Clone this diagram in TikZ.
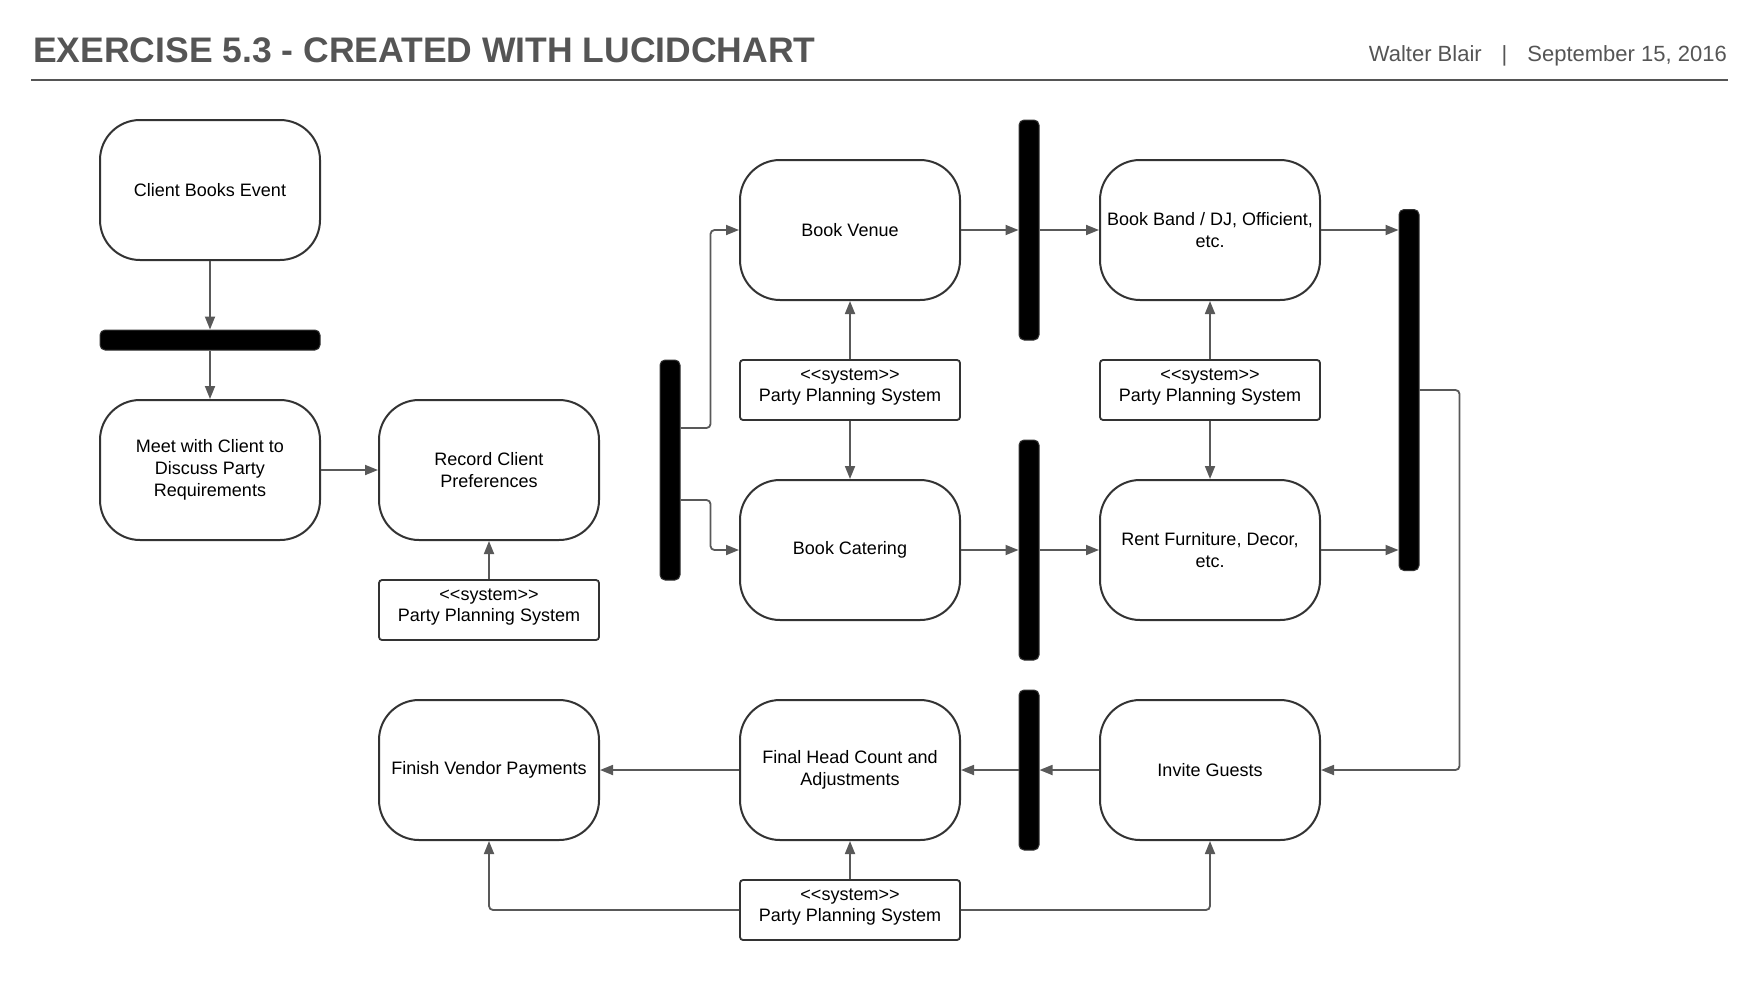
\documentclass[tikz,border=0pt]{standalone}
\usepackage{fontspec}
\setmainfont{Liberation Sans}[Ligatures=TeXOff]
\usepackage{xcolor}
\usetikzlibrary{arrows.meta}

\definecolor{linegray}{HTML}{595959}
\definecolor{headgray}{HTML}{555555}
\definecolor{boxline}{HTML}{333333}

\begin{document}
\begin{tikzpicture}[x=1pt, y=-1pt,
    >={Triangle[length=13pt, width=10pt]},
    act/.style={draw=boxline, line width=2pt, rounded corners=40pt,
        minimum width=220pt, minimum height=140pt, align=center,
        font=\fontsize{18}{22}\selectfont},
    sys/.style={draw=boxline, line width=1.8pt, rounded corners=3pt,
        minimum width=220pt, minimum height=60pt, align=center, inner sep=0pt,
        text depth=10.5pt, font=\fontsize{18}{21}\selectfont},
    bar/.style={fill=black, draw=boxline, line width=1pt, rounded corners=5pt,
        inner sep=0pt, minimum width=20pt},
    flow/.style={->, draw=linegray, line width=1.8pt, rounded corners=4pt}]
    \useasboundingbox (0,0) rectangle (1760,980);

    % Header
    \node[anchor=base west, text=headgray, inner sep=0pt,
        font=\fontsize{35.5}{40}\selectfont\bfseries] (title) at (33,62)
        {EXERCISE 5.3 - CREATED WITH LUCIDCHART};
    \node[anchor=base east, text=headgray, inner sep=0pt,
        font=\fontsize{22}{26}\selectfont] (author) at (1727,61)
        {Walter Blair\hspace{20pt}|\hspace{20pt}September 15, 2016};
    \draw[headgray, line width=2pt] (31,80) -- (1728,80);

    % Activities
    \node[act] (client) at (210,190) {Client Books Event};
    \node[act] (meet) at (210,470) {Meet with Client to\\Discuss Party\\Requirements};
    \node[act] (record) at (489,470) {Record Client\\Preferences};
    \node[act] (venue) at (850,230) {Book Venue};
    \node[act] (catering) at (850,550) {Book Catering};
    \node[act] (band) at (1210,230) {Book Band / DJ, Officient,\\etc.};
    \node[act] (rent) at (1210,550) {Rent Furniture, Decor,\\etc.};
    \node[act] (invite) at (1210,770) {Invite Guests};
    \node[act] (final) at (850,770) {Final Head Count and\\Adjustments};
    \node[act] (finish) at (489,770) {Finish Vendor Payments};

    % System boxes
    \node[sys] (sys1) at (489,610) {<<system>>\\Party Planning System};
    \node[sys] (sys2) at (850,390) {<<system>>\\Party Planning System};
    \node[sys] (sys3) at (1210,390) {<<system>>\\Party Planning System};
    \node[sys] (sys4) at (850,910) {<<system>>\\Party Planning System};

    % Fork / join bars
    \node[bar, minimum width=220pt, minimum height=20pt] (hbar) at (210,340) {};
    \node[bar, minimum height=220pt] (fork) at (670,470) {};
    \node[bar, minimum height=220pt] (bartop) at (1029,230) {};
    \node[bar, minimum height=220pt] (barbot) at (1029,550) {};
    \node[bar, minimum height=361pt] (join) at (1409,390) {};
    \node[bar, minimum height=160pt] (barlow) at (1029,770) {};

    % Connectors
    \draw[flow] (client) -- (hbar);
    \draw[flow] (hbar) -- (meet);
    \draw[flow] (meet) -- (record);
    \draw[flow] (sys1) -- (record);
    \draw[flow] ([yshift=42pt]fork.east) -- ++(30,0) |- (venue.west);
    \draw[flow] ([yshift=-30pt]fork.east) -- ++(30,0) |- (catering.west);
    \draw[flow] (sys2) -- (venue);
    \draw[flow] (sys2) -- (catering);
    \draw[flow] (venue) -- (bartop);
    \draw[flow] (bartop) -- (band);
    \draw[flow] (catering) -- (barbot);
    \draw[flow] (barbot) -- (rent);
    \draw[flow] (sys3) -- (band);
    \draw[flow] (sys3) -- (rent);
    \draw[flow] (band.east) -- (band.east -| join.west);
    \draw[flow] (rent.east) -- (rent.east -| join.west);
    \draw[flow] (join.east) -- ++(40,0) |- (invite.east);
    \draw[flow] (invite) -- (barlow);
    \draw[flow] (barlow) -- (final);
    \draw[flow] (final) -- (finish);
    \draw[flow] (sys4) -- (final);
    \draw[flow] (sys4.west) -| (finish.south);
    \draw[flow] (sys4.east) -| (invite.south);
\end{tikzpicture}
\end{document}
